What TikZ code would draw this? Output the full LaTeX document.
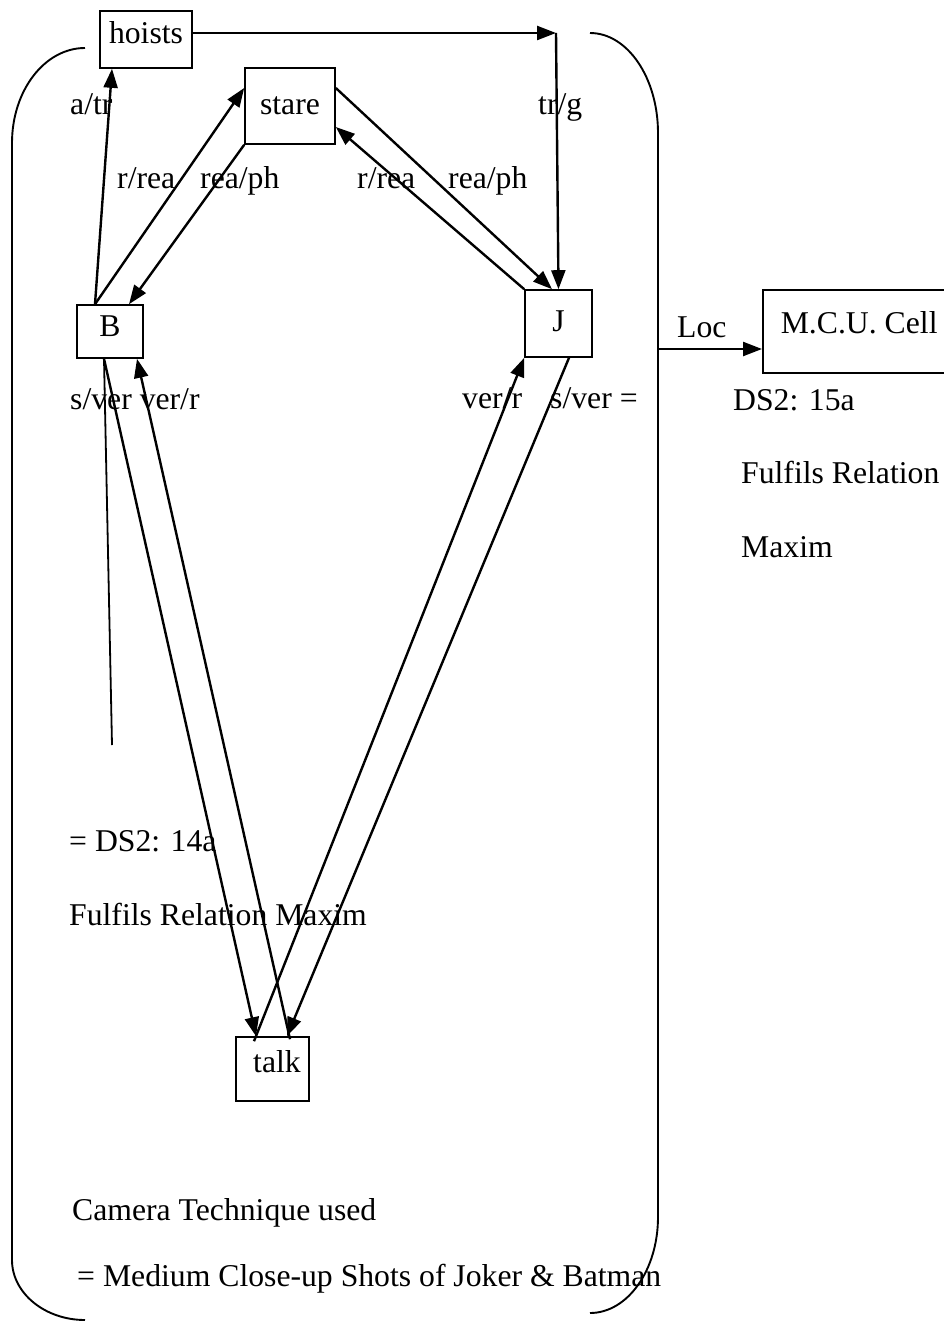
\documentclass[tikz,border=0pt]{standalone}
\usepackage{fontspec}
\setmainfont{Liberation Serif}
\usetikzlibrary{arrows.meta}
\begin{document}
\begin{tikzpicture}[x=1pt,y=-1pt,
  every node/.style={font=\fontsize{31.7}{38}\selectfont},
  box/.style={draw, line width=1.6pt, inner sep=0pt},
  lbl/.style={anchor=base west, inner sep=0pt},
  conn/.style={line width=2.4pt, -{Triangle[length=19pt,width=14pt]}},
  plainline/.style={line width=1.8pt},
  brk/.style={line width=1.9pt}]
\useasboundingbox (0,0) rectangle (944,1327);
\clip (0,0) rectangle (944,1327);

% boxes
\node[box, minimum width=92pt, minimum height=57pt, text depth=14pt] (hoists) at (146,39.5) {hoists};
\node[box, minimum width=90pt, minimum height=76pt] (stare) at (290,106) {stare};
\node[box, minimum width=66pt, minimum height=53pt, text depth=10pt] (B) at (110,331.5) {B};
\node[box, minimum width=67pt, minimum height=67pt, text depth=4pt] (J) at (558.5,323.5) {J};
\node[box, minimum width=73pt, minimum height=64pt, text depth=15pt] (talk) at (272.5,1069) {\hspace{9pt}talk};
\node[box, anchor=west, inner xsep=18pt, minimum height=83pt, text depth=18.7pt] (MCU) at (762,331.5) {M.C.U. Cell};

% bracket
\draw[brk] (85,48) .. controls (44.7,48) and (12,90.5) .. (12,143) -- (12,1260)
  .. controls (12,1293) and (44.7,1320) .. (85,1320);
\draw[brk] (590,33) .. controls (627.6,33) and (658,78) .. (658,133) -- (658,1217)
  .. controls (658,1270) and (627.6,1313) .. (590,1313);

\coordinate (tr) at (556,33);
\coordinate (locS) at (658,349);
\coordinate (vend) at (112,745);

% connectors
\draw[conn] ([yshift=6.5pt]hoists.east) -- (tr);
\draw[conn] (tr) -- (J.north);
\draw[conn] ([xshift=-15pt]B.north) -- ([xshift=-34pt]hoists.south);
\draw[conn] ([xshift=-15pt]B.north) -- ([yshift=18pt]stare.west);
\draw[conn] (stare.south west) -- ([xshift=19pt]B.north);
\draw[conn] (J.north west) -- ([yshift=-21pt]stare.east);
\draw[conn] ([yshift=18pt]stare.east) -- ([xshift=-6.5pt]J.north);
\draw[conn] ([xshift=-6pt]B.south) -- ([xshift=-16.5pt]talk.north);
\draw[conn] ([xshift=17.5pt,yshift=-3pt]talk.north) -- ([xshift=27pt]B.south);
\draw[conn] ([xshift=-18.5pt,yshift=-5pt]talk.north) -- (J.south west);
\draw[conn] ([xshift=10.5pt]J.south) -- ([xshift=14.5pt]talk.north);
\draw[plainline] ([xshift=-6pt]B.south) -- (vend);
\draw[conn] (locS) -- ([yshift=-17.5pt]MCU.west);

% labels
\node[lbl] (l1) at (70,115) {a/tr};
\node[lbl] (l2) at (538,115) {tr/g};
\node[lbl] (l3) at (117,188) {r/rea};
\node[lbl] (l4) at (200,188) {rea/ph};
\node[lbl] (l5) at (357,188) {r/rea};
\node[lbl] (l6) at (448,188) {rea/ph};
\node[lbl] (l7) at (70,409) {s/ver ver/r};
\node[lbl] (l8) at (462,408) {ver/r};
\node[lbl] (l9) at (550,408) {s/ver =};
\node[lbl] (l10) at (677,337) {Loc};
\node[lbl] (l11) at (733,410) {DS2: 15a};
\node[lbl] (l12) at (741,483) {Fulfils Relation};
\node[lbl] (l13) at (741,557) {Maxim};
\node[lbl] (l14) at (69,851) {= DS2: 14a};
\node[lbl] (l15) at (69,925) {Fulfils Relation Maxim};
\node[lbl] (l16) at (72,1220) {Camera Technique used};
\node[lbl] (l17) at (77,1286) {= Medium Close-up Shots of Joker \& Batman};
\end{tikzpicture}
\end{document}
